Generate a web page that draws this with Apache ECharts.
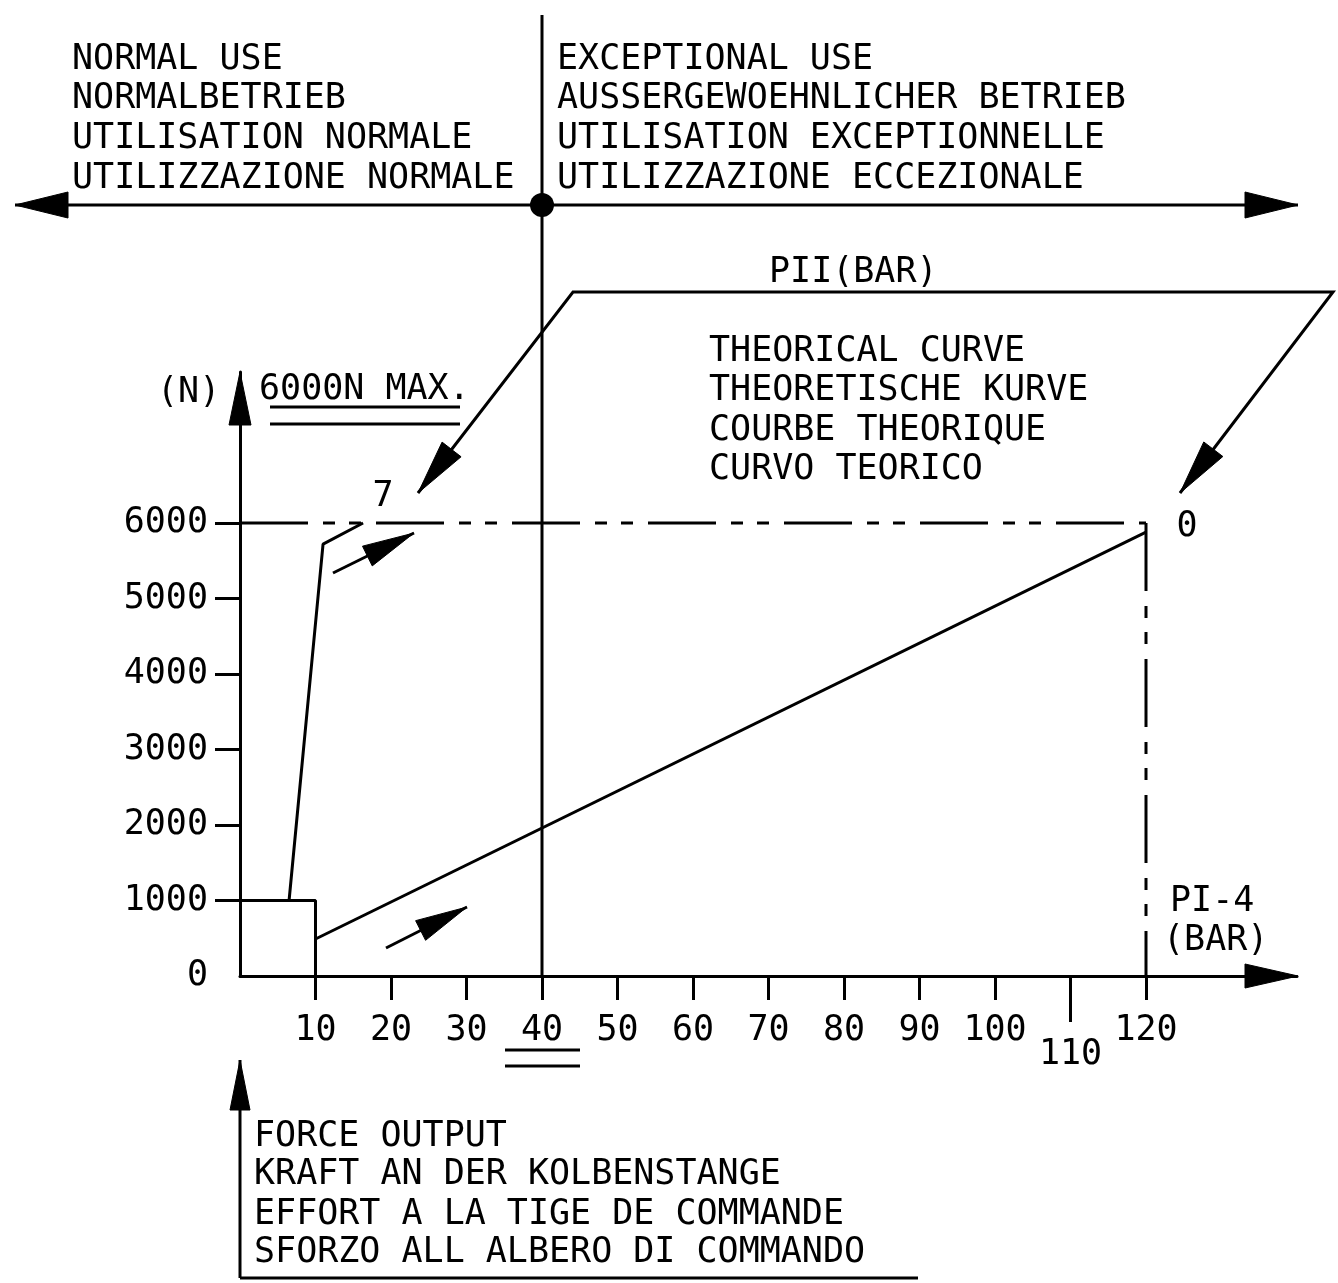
<!DOCTYPE html>
<html><head><meta charset="utf-8">
<script src="https://cdn.jsdelivr.net/npm/echarts@6/dist/echarts.min.js"></script>
<style>html,body{margin:0;padding:0;background:#fff}#c{width:1338px;height:1283px}</style>
</head><body><div id="c"></div><script>
// ---- data ----
const xTickValues = [10,20,30,40,50,60,70,80,90,100,110,120];
const xLabelValues = [10,20,30,40,50,60,70,80,90,100,120];
const xLowLabelValues = [110];
const yTickValues = [1000,2000,3000,4000,5000,6000];
const yLabelValues = [0,1000,2000,3000,4000,5000,6000];
const boxLine = [[0,1000],[10,1000],[10,0]];
const normalCurve = [[6.5,1000],[11,5720],[16.3,6000]];
const theoreticalLine = [[10,490],[120,5880]];
const maxForceLine = [[0,6000],[120,6000]];
const maxPressureLine = [[120,6000],[120,0]];
const dividerX = 40;
const normalUseTexts = ['NORMAL USE','NORMALBETRIEB','UTILISATION NORMALE','UTILIZZAZIONE NORMALE'];
const exceptionalUseTexts = ['EXCEPTIONAL USE','AUSSERGEWOEHNLICHER BETRIEB','UTILISATION EXCEPTIONNELLE','UTILIZZAZIONE ECCEZIONALE'];
const theoryTexts = ['THEORICAL CURVE','THEORETISCHE KURVE','COURBE THEORIQUE','CURVO TEORICO'];
const forceTexts = ['FORCE OUTPUT','KRAFT AN DER KOLBENSTANGE','EFFORT A LA TIGE DE COMMANDE','SFORZO ALL ALBERO DI COMMANDO'];

const FONT = '"DejaVu Sans Mono", monospace';
const FS = 35;
const BLACK = '#000';
const dashPattern = [68,15,12,14,12,15];
const TY = 3; // text vertical nudge

const chart = echarts.init(document.getElementById('c'), null, {renderer:'canvas'});
const lineSeries = (data, dashed) => ({
  type:'line', data, showSymbol:false, symbol:'none', animation:false, clip:false, silent:true,
  lineStyle:{color:BLACK, width:3, type: dashed ? dashPattern : 'solid'}
});
const labelStyle = {color:BLACK, fontFamily:FONT, fontSize:FS};
chart.setOption({
  animation:false,
  backgroundColor:'#fff',
  grid:{left:240, top:372, width:1057, height:604, containLabel:false},
  xAxis:[{
    type:'value', min:0, max:140, interval:10,
    axisLine:{show:true, onZero:false, lineStyle:{color:BLACK, width:3}},
    axisTick:{show:true, length:24, lineStyle:{color:BLACK, width:3}, customValues: xTickValues.filter(v=>v!==110)},
    axisLabel:{...labelStyle, margin:37, customValues:xLabelValues, formatter:v=>String(v)},
    splitLine:{show:false}
  },{
    type:'value', min:0, max:140, interval:10, position:'bottom', gridIndex:0,
    axisLine:{show:false},
    axisTick:{show:true, length:46, lineStyle:{color:BLACK, width:3}, customValues:xLowLabelValues},
    axisLabel:{...labelStyle, margin:61, customValues:xLowLabelValues, formatter:v=>String(v)},
    splitLine:{show:false}
  }],
  yAxis:{
    type:'value', min:0, max:8000, interval:1000,
    axisLine:{show:true, onZero:false, lineStyle:{color:BLACK, width:3}},
    axisTick:{show:true, length:25, lineStyle:{color:BLACK, width:3}, customValues:yTickValues},
    axisLabel:{...labelStyle, margin:32, padding:[6,0,0,0], customValues:yLabelValues, formatter:v=>String(v)},
    splitLine:{show:false}
  },
  series:[
    lineSeries(boxLine,false),
    lineSeries(normalCurve,false),
    lineSeries(theoreticalLine,false),
    lineSeries(maxForceLine,true),
    lineSeries(maxPressureLine,true)
  ]
});

const P = (x,y)=>chart.convertToPixel({gridIndex:0},[x,y]);
const g = [];
function line(x1,y1,x2,y2,w){ g.push({type:'line', silent:true, shape:{x1,y1,x2,y2}, style:{stroke:BLACK, lineWidth:w||3}}); }
function head(tx,ty,fx,fy,len,hw){
  const dx=tx-fx, dy=ty-fy, L=Math.hypot(dx,dy), ux=dx/L, uy=dy/L;
  const bx=tx-ux*len, by=ty-uy*len, px=-uy*hw, py=ux*hw;
  g.push({type:'polygon', silent:true, shape:{points:[[tx,ty],[bx+px,by+py],[bx-px,by-py]]}, style:{fill:BLACK, stroke:BLACK, lineWidth:1}});
}
function arrow(fx,fy,tx,ty,len,hw,w){ line(fx,fy,tx,ty,w); head(tx,ty,fx,fy,len,hw); }
function text(t,x,y,align){
  g.push({type:'text', silent:true, style:{text:t, x, y:y+TY, font:FS+'px '+FONT, fill:BLACK,
    textAlign:align||'left', align:align||'left', textVerticalAlign:'middle', verticalAlign:'middle'}});
}

const origin = P(0,0), yTop = P(0,8000), xEnd = P(140,0), div = P(dividerX,0);
// axis arrowheads
head(yTop[0], yTop[1], origin[0], origin[1], 53, 11);
head(xEnd[0]+1, xEnd[1], origin[0], origin[1], 53, 12);
// divider and top double arrow
line(div[0], 15, div[0], origin[1], 3);
line(15, 205, 1298, 205, 3);
head(15,205,600,205,53,13);
head(1298,205,600,205,53,13);
g.push({type:'circle', silent:true, shape:{cx:div[0], cy:205, r:12}, style:{fill:BLACK}});
// bottom force arrow
line(origin[0], 1278, origin[0], 1060, 3);
head(origin[0], 1060, origin[0], 1278, 50, 10);
line(origin[0], 1278, 918, 1278, 3);
// PII bracket
g.push({type:'polyline', silent:true, shape:{points:[[418,493],[573,292],[1333,292],[1180,493]]}, style:{stroke:BLACK, lineWidth:3, fill:null}});
head(418,493,573,292,55,12);
head(1180,493,1333,292,55,12);
// direction arrows
arrow(333,573,414,533,52,11,3);
arrow(386,948,467,907,52,11,3);
// double underlines
line(270,407,460,407,3); line(270,424,460,424,3);
line(505,1050,580,1050,3); line(505,1066,580,1066,3);

// texts
const rowsTop=[57,96,136,176];
normalUseTexts.forEach((t,i)=>text(t,72,rowsTop[i]));
exceptionalUseTexts.forEach((t,i)=>text(t,557,rowsTop[i]));
text('PII(BAR)',769,270);
const rowsTheory=[349,388,428,467];
theoryTexts.forEach((t,i)=>text(t,709,rowsTheory[i]));
text('(N)',157,390);
text('6000N MAX.',259,387);
text('7',383,494,'center');
text('0',1187,524,'center');
text('PI-4',1170,899);
text('(BAR)',1163,938);
const rowsForce=[1134,1172,1212,1250];
forceTexts.forEach((t,i)=>text(t,254,rowsForce[i]));

chart.setOption({graphic:{elements:g}});
</script></body></html>
